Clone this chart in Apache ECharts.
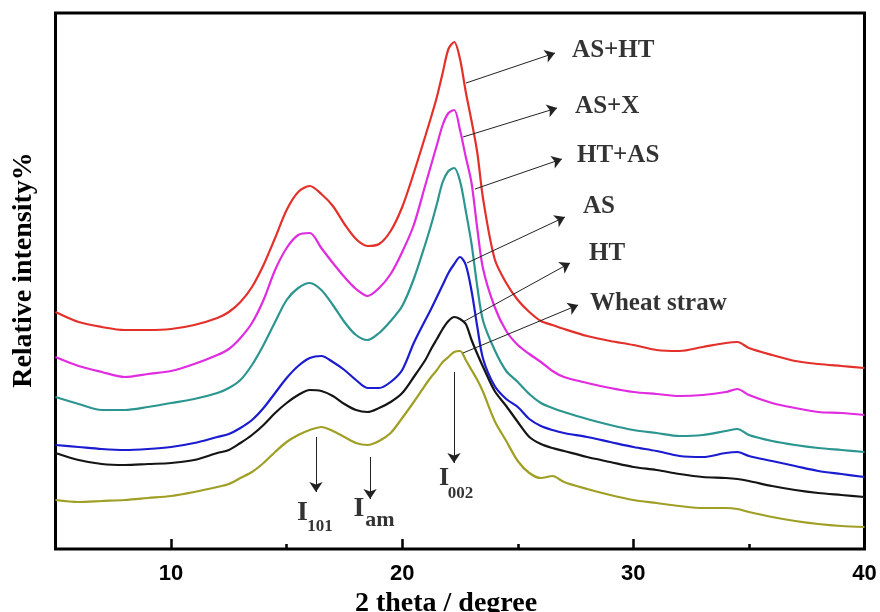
<!DOCTYPE html>
<html>
<head>
<meta charset="utf-8">
<script src="https://cdn.jsdelivr.net/npm/echarts@6/dist/echarts.min.js"></script>
<style>html,body{margin:0;padding:0;background:#fff;}#c{width:880px;height:612px;}</style>
</head>
<body>
<div id="c"></div>
<script>
// 2-theta positions (degree) at which the patterns were read
var twoTheta = [5,6,7,8,9,10,11,12,
  12.5,13,13.5,14,14.5,15,15.5,16,16.5,17,17.5,18,18.5,19,19.5,20,20.5,21,
  21.25,21.5,21.75,22,22.25,22.5,22.75,23,23.25,23.5,
  24,24.5,25,25.5,26,26.5,27,
  28,29,30,31,32,33,34,34.5,35,36,37,38,39,40];

// relative intensities (a.u., stacked patterns as in the figure)
var asHt = [237,227,222,219,219,220,224,231,
  237,247,262,284,311,339,357,363,355,343,325,310,303,305,318,342,376,413,
  432,452,476,500,507,490,457,428,396,350,
  290,266,249,237,228,224,220,
  213,208,204,199,198,202,206,207,201,194,188,185,183,181];
var asX = [192,183,177,172,175,178,185,194,
  200,211,226,249,279,301,314,316,301,286,272,260,253,261,275,297,324,364,
  384,404,424,436,439,419,392,366,320,280,
  242,218,204,195,187,178,172,
  166,161,157,155,153,154,157,160,154,146,141,137,136,134];
var htAs = [152,145,139,139,142,146,150,156,
  161,169,184,204,227,249,261,266,259,244,227,214,209,216,228,243,270,305,
  324,345,367,378,381,368,338,305,262,228,
  199,178,167,155,146,141,137,
  130,124,119,116,113,114,118,120,114,108,104,101,99,97];
var asOnly = [104,102,100,99,100,102,106,112,
  115,121,129,141,156,171,183,191,193,187,179,169,161,161,167,179,206,229,
  240,252,264,276,285,292,284,258,222,190,
  163,150,142,130,123,119,116,
  112,107,102,98,93,92,96,97,93,88,83,78,75,72];
var htOnly = [96,89,85,84,85,86,89,96,
  99,106,114,124,136,146,154,159,158,153,145,139,137,141,147,156,172,189,
  200,210,220,228,232,230,225,209,195,182,
  158,143,127,112,105,101,98,
  92,87,82,79,75,72,71,70,68,63,59,56,54,52];
var wheatStraw = [49,47,48,49,51,53,57,62,
  65,71,77,86,97,107,114,119,122,118,112,106,104,108,116,131,147,164,
  172,179,187,192,197,198,189,179,169,157,
  128,108,88,76,71,73,67,
  60,54,49,46,43,41,41,40,37,32,28,25,23,22];

var seriesNames = ['AS+HT','AS+X','HT+AS','AS','HT','Wheat straw'];
var seriesValues = [asHt, asX, htAs, asOnly, htOnly, wheatStraw];
var seriesColors = ['#e3302a','#e02be0','#2b9590','#1b1bd0','#151515','#a09f25'];

var majorTicks = [10,20,30,40];
var minorTicks = [15,25,35];

// annotation arrows: [start, end] in data coordinates
var nameArrows = [
  [[22.76,466],[26.61,496]],
  [[22.63,412],[26.70,441]],
  [[23.15,360],[26.91,390]],
  [[22.80,286],[27.04,332]],
  [[22.63,227],[27.26,286]],
  [[22.63,196],[27.61,244]]
];
var nameLabelPos = [[27.35,498.5],[27.48,442.5],[27.56,393.5],[27.82,342],[28.08,295.5],[28.12,245.5]];

var peakArrows = [
  [[16.27,112],[16.27,57]],
  [[18.61,92],[18.61,50]],
  [[22.24,177],[22.24,86]]
];
var peakLabels = [
  {pos:[15.68,36.4], text:'I', size:28},
  {pos:[16.44,22.7], text:'101', size:17},
  {pos:[18.13,40.4], text:'I', size:28},
  {pos:[19.04,28.4], text:'am', size:22},
  {pos:[21.81,70.7], text:'I', size:26},
  {pos:[22.52,55.7], text:'002', size:17}
];

var serif = 'Liberation Serif, Times New Roman, serif';
var sans = 'Liberation Sans, Arial, sans-serif';

var series = seriesNames.map(function(n, k){
  return {
    name: n, type: 'line', showSymbol: false, smooth: 0.3,
    data: twoTheta.map(function(x, i){ return [x, seriesValues[k][i]]; }),
    lineStyle: {color: seriesColors[k], width: 2.2},
    itemStyle: {color: seriesColors[k]},
    silent: true, z: 2
  };
});

var labelData = [];
nameLabelPos.forEach(function(p, i){
  labelData.push({value: p, label: {formatter: seriesNames[i], fontSize: 25, align: 'left'}});
});
peakLabels.forEach(function(p){
  labelData.push({value: p.pos, label: {formatter: p.text, fontSize: p.size, align: 'center'}});
});

var arrowData = nameArrows.concat(peakArrows).map(function(a){
  return [{coord: a[0]}, {coord: a[1]}];
});

series.push({
  name: 'annotations', type: 'scatter', symbolSize: 0, silent: true, z: 5,
  data: labelData,
  label: {show: true, position: [0,0], verticalAlign: 'middle', color: '#000',
          fontFamily: serif, fontWeight: 'bold'},
  markLine: {
    silent: true, symbol: ['none','arrow'], symbolSize: 10,
    label: {show: false},
    lineStyle: {color: '#222', width: 1, type: 'solid'},
    emphasis: {disabled: true},
    data: arrowData
  }
});

var chart = echarts.init(document.getElementById('c'), null, {renderer: 'canvas'});
chart.setOption({
  animation: false,
  backgroundColor: '#fff',
  grid: {left: 55.5, right: 15.5, top: 13, bottom: 63, show: true, borderColor: '#000', borderWidth: 3,
         containLabel: false, outerBoundsMode: 'none'},
  xAxis: [{
    type: 'value', min: 5, max: 40, interval: 5,
    axisLine: {show: false},
    axisTick: {show: true, inside: true, length: 10, lineStyle: {color: '#000', width: 2.5}, customValues: majorTicks},
    axisLabel: {show: true, customValues: majorTicks, margin: 14, color: '#000', fontFamily: sans, fontWeight: 'bold', fontSize: 22},
    splitLine: {show: false},
    name: '2 theta / degree', nameLocation: 'middle', nameGap: 29,
    nameTextStyle: {fontFamily: serif, fontWeight: 'bold', fontSize: 28, color: '#000', padding: [0, 28, 0, 0]}
  }, {
    type: 'value', min: 5, max: 40, interval: 5, position: 'bottom',
    axisLine: {show: false},
    axisTick: {show: true, inside: true, length: 5, lineStyle: {color: '#000', width: 2.5}, customValues: minorTicks},
    axisLabel: {show: false}, splitLine: {show: false}
  }],
  yAxis: {
    type: 'value', min: 0, max: 536,
    axisLine: {show: false}, axisTick: {show: false}, axisLabel: {show: false}, splitLine: {show: false},
    name: 'Relative intensity%', nameLocation: 'middle', nameGap: 18,
    nameTextStyle: {fontFamily: serif, fontWeight: 'bold', fontSize: 28, color: '#000', padding: [0, 0, 0, 22]}
  },
  series: series
});
</script>
</body>
</html>
